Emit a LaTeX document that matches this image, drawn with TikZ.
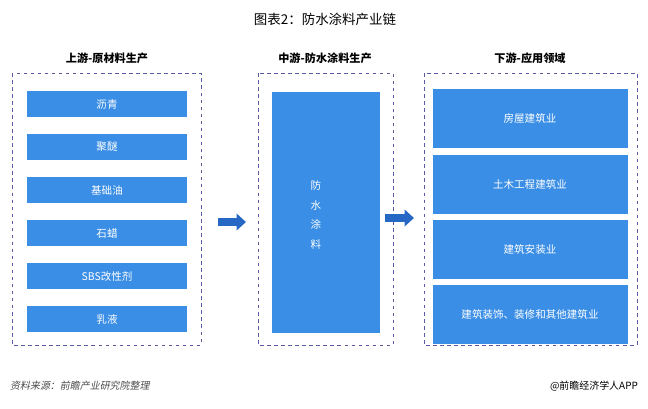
\documentclass[tikz,border=0pt]{standalone}
\usepackage{fontspec}
\setmainfont{Noto Sans CJK SC}
\newfontfamily\slantcjk[FakeSlant=0.2]{Noto Sans CJK SC}
\usetikzlibrary{arrows.meta}
\definecolor{boxblue}{RGB}{58,142,230}
\definecolor{arrblue}{RGB}{38,104,196}
\tikzset{
  frame/.style={draw=gray!70!blue,dashed,line width=0.6pt},
  item/.style={fill=boxblue,text=white,font=\fontsize{9}{11}\selectfont,align=center},
  head/.style={font=\fontsize{9.5}{11}\selectfont\bfseries},
  flow/.style={-{Triangle[length=8pt,width=14pt]},line width=6pt,arrblue}
}
\begin{document}
\begin{tikzpicture}[x=0.03cm,y=-0.03cm]
\useasboundingbox (0,0) rectangle (648,408);
\node[font=\fontsize{11.5}{13}\selectfont] (title) at (325,19) {图表2：防水涂料产业链};
% upstream
\node[head] (uphead) at (107,58) {上游-原材料生产};
\draw[frame] (12,73) rectangle (201,345);
\foreach \t [count=\i] in {沥青,聚醚,基础油,石蜡,SBS改性剂,乳液}{
  \node[item,minimum width=160*0.03cm,minimum height=26*0.03cm] (up\i) at (107,104+43*\i-43) {\t};
}
% midstream
\node[head] (midhead) at (325,58) {中游-防水涂料生产};
\draw[frame] (258,73) rectangle (393,345);
\fill[boxblue] (272,92) rectangle (380,333);
\node[text=white,font=\fontsize{9}{17}\selectfont,align=center] (mid) at (316,215) {防\\水\\涂\\料};
% downstream
\node[head] (downhead) at (530,58) {下游-应用领域};
\draw[frame] (424,73) rectangle (637,345);
\foreach \t/\y [count=\i] in {房屋建筑业/118,土木工程建筑业/184,建筑安装业/249,{建筑装饰、装修和其他建筑业}/314}{
  \node[item,minimum width=195*0.03cm,minimum height=59*0.03cm] (down\i) at (530,\y) {\t};
}
% arrows
\coordinate (a1) at (218,222); \coordinate (a2) at (246,222);
\coordinate (b1) at (385,218); \coordinate (b2) at (414,218);
\draw[flow] (a1) -- (a2);
\draw[flow] (b1) -- (b2);
% footer
\node[anchor=west,text=gray!60!black,font=\fontsize{8.5}{10}\selectfont\slantcjk] (src) at (6,386) {资料来源：前瞻产业研究院整理};
\node[anchor=east,font=\fontsize{8.5}{10}\selectfont] (app) at (642,386) {@前瞻经济学人APP};
\end{tikzpicture}
\end{document}
